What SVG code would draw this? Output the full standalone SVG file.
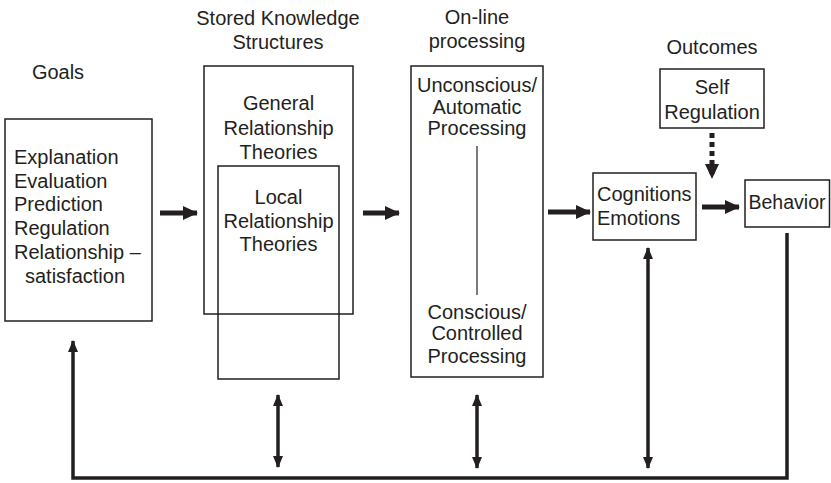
<svg xmlns="http://www.w3.org/2000/svg" width="831" height="483" viewBox="0 0 831 483">
<defs>
<style>
text{font-family:"Liberation Sans",Arial,sans-serif;font-size:20px;fill:#231f20}
.c{text-anchor:middle}
.box{fill:none;stroke:#231f20;stroke-width:1.5}
.thick{stroke:#231f20;stroke-width:5;fill:none}
.thin{stroke:#231f20;stroke-width:3.5;fill:none}
.dot{stroke:#231f20;stroke-width:5;fill:none;stroke-dasharray:5 4}
</style>
<marker id="big" markerUnits="userSpaceOnUse" markerWidth="16" markerHeight="16" refX="14" refY="8" orient="auto">
<path d="M0,1 L15,8 L0,15 Z" fill="#231f20"/>
</marker>
<marker id="sm" markerUnits="userSpaceOnUse" markerWidth="12" markerHeight="12" refX="11" refY="6" orient="auto-start-reverse">
<path d="M0,1 L12,6 L0,11 Z" fill="#231f20"/>
</marker>
</defs>
<g id="headers">
<text class="c" x="58" y="79">Goals</text>
<text class="c" x="278" y="25">Stored Knowledge</text>
<text class="c" x="278" y="49">Structures</text>
<text class="c" x="477" y="24">On-line</text>
<text class="c" x="477" y="48">processing</text>
<text class="c" x="712" y="54">Outcomes</text>
</g>
<g id="goals">
<rect class="box" x="5" y="119" width="147" height="202"/>
<text x="14" y="164">Explanation</text>
<text x="14" y="188">Evaluation</text>
<text x="14" y="211">Prediction</text>
<text x="14" y="235">Regulation</text>
<text x="14" y="259">Relationship –</text>
<text x="25" y="283">satisfaction</text>
</g>
<g id="general">
<rect class="box" x="204" y="66" width="149" height="248"/>
<text class="c" x="278.5" y="110">General</text>
<text class="c" x="278.5" y="135">Relationship</text>
<text class="c" x="278.5" y="159">Theories</text>
</g>
<g id="local">
<rect class="box" x="218" y="166" width="121" height="213"/>
<text class="c" x="278.5" y="204">Local</text>
<text class="c" x="278.5" y="228">Relationship</text>
<text class="c" x="278.5" y="251">Theories</text>
</g>
<g id="online">
<rect class="box" x="411" y="66" width="132" height="311"/>
<text class="c" x="477" y="92">Unconscious/</text>
<text class="c" x="477" y="114">Automatic</text>
<text class="c" x="477" y="135">Processing</text>
<line x1="477" y1="146" x2="477" y2="295" stroke="#231f20" stroke-width="1.2"/>
<text class="c" x="477" y="319">Conscious/</text>
<text class="c" x="477" y="340">Controlled</text>
<text class="c" x="477" y="363">Processing</text>
</g>
<g id="selfreg">
<rect class="box" x="660" y="69" width="104" height="59"/>
<text class="c" x="712" y="94">Self</text>
<text class="c" x="712" y="119">Regulation</text>
</g>
<g id="cognitions">
<rect class="box" x="593" y="173" width="103" height="67"/>
<text x="597" y="201">Cognitions</text>
<text x="597" y="225">Emotions</text>
</g>
<g id="behavior">
<rect class="box" x="745" y="180" width="84.5" height="47"/>
<text x="787" y="209" class="c" style="font-size:19.5px">Behavior</text>
</g>
<g id="connectors">
<line class="thick" x1="160" y1="213" x2="197" y2="213" marker-end="url(#big)"/>
<line class="thick" x1="363" y1="213" x2="399" y2="213" marker-end="url(#big)"/>
<line class="thick" x1="548" y1="212" x2="590" y2="212" marker-end="url(#big)"/>
<line class="thick" x1="702" y1="207" x2="739" y2="207" marker-end="url(#big)"/>
<line class="dot" x1="712" y1="133" x2="712" y2="178" marker-end="url(#big)"/>
<line class="thin" x1="278" y1="395" x2="278" y2="467" marker-start="url(#sm)" marker-end="url(#sm)"/>
<line class="thin" x1="477" y1="395" x2="477" y2="468" marker-start="url(#sm)" marker-end="url(#sm)"/>
<line class="thin" x1="648" y1="248" x2="648" y2="468" marker-start="url(#sm)" marker-end="url(#sm)"/>
<polyline class="thin" points="787,233 787,478 73,478 73,341" marker-end="url(#sm)"/>
</g>
</svg>
